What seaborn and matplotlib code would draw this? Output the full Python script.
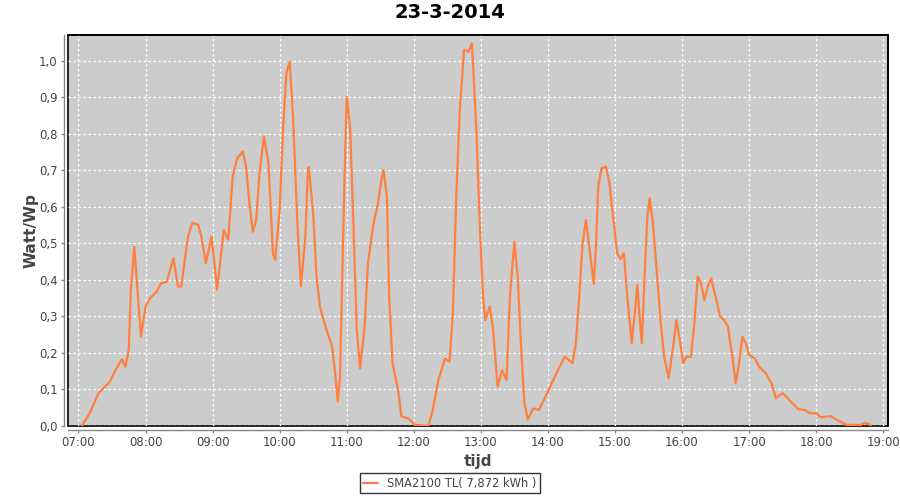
import pandas as pd
import seaborn as sns
import matplotlib
matplotlib.use('Agg')
import matplotlib.pyplot as plt
from matplotlib.ticker import FuncFormatter, MultipleLocator

# Values
times = ["07:03", "07:10", "07:18", "07:28", "07:34", "07:39", "07:42", "07:45", "07:47", "07:50",
         "07:53", "07:56", "08:00", "08:04", "08:10", "08:14", "08:19", "08:25", "08:29", "08:32",
         "08:38", "08:42", "08:47", "08:50", "08:54", "08:59", "09:01", "09:04", "09:08", "09:10",
         "09:14", "09:18", "09:22", "09:27", "09:30", "09:33", "09:36", "09:39", "09:42", "09:46",
         "09:50", "09:54", "09:56", "10:00", "10:03", "10:06", "10:09", "10:12", "10:16", "10:19",
         "10:23", "10:25", "10:26", "10:30", "10:33", "10:36", "10:42", "10:47", "10:50", "10:52",
         "10:54", "10:56", "10:58", "11:00", "11:03", "11:06", "11:09", "11:12", "11:16", "11:19",
         "11:24", "11:28", "11:31", "11:33", "11:36", "11:38", "11:41", "11:46", "11:49", "11:55",
         "12:01", "12:13", "12:17", "12:22", "12:28", "12:32", "12:35", "12:38", "12:41", "12:45",
         "12:49", "12:52", "12:56", "12:59", "13:02", "13:04", "13:08", "13:11", "13:15", "13:19",
         "13:23", "13:26", "13:30", "13:33", "13:36", "13:39", "13:42", "13:47", "13:52", "14:00",
         "14:07", "14:15", "14:22", "14:25", "14:28", "14:31", "14:34", "14:37", "14:41", "14:43",
         "14:45", "14:48", "14:52", "14:55", "14:59", "15:02", "15:05", "15:08", "15:11", "15:15",
         "15:18", "15:20", "15:22", "15:24", "15:27", "15:29", "15:31", "15:34", "15:38", "15:41",
         "15:44", "15:48", "15:52", "15:55", "15:58", "16:01", "16:04", "16:08", "16:11", "16:14",
         "16:17", "16:20", "16:23", "16:26", "16:30", "16:34", "16:38", "16:41", "16:45", "16:48",
         "16:51", "16:54", "16:57", "17:00", "17:05", "17:09", "17:15", "17:20", "17:24", "17:30",
         "17:36", "17:44", "17:50", "17:54", "18:00", "18:04", "18:13", "18:19", "18:27", "18:40",
         "18:44", "18:49"]

watt_per_wp = [0.0, 0.035, 0.09, 0.121, 0.158, 0.183, 0.162, 0.208, 0.38, 0.491,
               0.363, 0.245, 0.327, 0.35, 0.368, 0.391, 0.395, 0.459, 0.382, 0.382,
               0.519, 0.557, 0.551, 0.519, 0.446, 0.519, 0.464, 0.373, 0.482, 0.537,
               0.51, 0.683, 0.733, 0.752, 0.71, 0.61, 0.532, 0.564, 0.692, 0.793,
               0.72, 0.473, 0.455, 0.592, 0.811, 0.966, 0.998, 0.847, 0.546, 0.382,
               0.519, 0.683, 0.71, 0.583, 0.409, 0.327, 0.263, 0.217, 0.135, 0.067,
               0.135, 0.409, 0.674, 0.902, 0.82, 0.555, 0.263, 0.158, 0.272, 0.446,
               0.555, 0.61, 0.674, 0.701, 0.628, 0.354, 0.172, 0.099, 0.026, 0.021,
               0.003, 0.0, 0.044, 0.126, 0.185, 0.176, 0.309, 0.628, 0.857, 1.03,
               1.025, 1.048, 0.811, 0.555, 0.354, 0.29, 0.327, 0.263, 0.108, 0.153,
               0.126, 0.354, 0.505, 0.409, 0.217, 0.062, 0.018, 0.048, 0.044, 0.094,
               0.14, 0.19, 0.172, 0.227, 0.354, 0.5, 0.564, 0.491, 0.39, 0.491,
               0.656, 0.706, 0.71, 0.665, 0.555, 0.473, 0.457, 0.473, 0.354, 0.227,
               0.318, 0.386, 0.3, 0.227, 0.446, 0.573, 0.624, 0.555, 0.4, 0.281,
               0.19, 0.131, 0.217, 0.29, 0.236, 0.172, 0.19, 0.19, 0.281, 0.409,
               0.391, 0.345, 0.382, 0.405, 0.354, 0.3, 0.289, 0.272, 0.19, 0.117,
               0.172, 0.245, 0.227, 0.195, 0.185, 0.162, 0.144, 0.117, 0.076, 0.09,
               0.071, 0.046, 0.044, 0.035, 0.035, 0.024, 0.027, 0.016, 0.003, 0.003,
               0.009, 0.002]

series_label = "SMA2100 TL( 7,872 kWh )"
title = "23-3-2014"
hour_ticks = list(range(7, 20))

df = pd.DataFrame({'tijd': times, 'value': watt_per_wp})
df['hours'] = df['tijd'].apply(lambda s: int(s[:2]) + int(s[3:]) / 60.0)

sns.set_style('white')
plt.rcParams['font.family'] = ['DejaVu Sans']
text_col = '#444444'

fig = plt.figure(figsize=(9, 5), dpi=100)
ax = fig.add_axes([0.0756, 0.148, 0.911, 0.782])
ax.set_facecolor('#cccccc')

sns.lineplot(x='hours', y='value', data=df, ax=ax, color='#ff7f3f', linewidth=1.6,
             sort=False, estimator=None, label=series_label, legend=False)

ax.set_xlim(6.845, 19.07)
ax.set_ylim(0, 1.071)
ax.set_xticks(hour_ticks)
ax.xaxis.set_major_formatter(FuncFormatter(lambda v, p: f"{int(round(v)):02d}:00"))
ax.yaxis.set_major_locator(MultipleLocator(0.1))
ax.yaxis.set_major_formatter(FuncFormatter(lambda v, p: f"{v:.1f}".replace('.', ',')))

ax.grid(True, color='white', linestyle=(0, (2, 2)), linewidth=0.9)
ax.set_axisbelow(True)

# JFreeChart style: black plot frame, grey axis lines offset outward
ax.patch.set_edgecolor('black')
ax.patch.set_linewidth(1.2)
for side in ['top', 'right']:
    ax.spines[side].set_color('black')
    ax.spines[side].set_linewidth(1.2)
for side in ['left', 'bottom']:
    ax.spines[side].set_position(('outward', 3))
    ax.spines[side].set_color('#888888')
    ax.spines[side].set_linewidth(1)
ax.tick_params(axis='both', colors='#888888', labelcolor=text_col, labelsize=8.5,
               length=2.5, width=1, pad=2, direction='out')
ax.tick_params(left=True, bottom=True)

ax.set_xlabel('tijd', fontsize=11, fontweight='bold', color=text_col, labelpad=3)
ax.set_ylabel('Watt/Wp', fontsize=11, fontweight='bold', color=text_col, labelpad=0)
fig.suptitle(title, fontsize=14, fontweight='bold', color='black', y=0.995)

leg = fig.legend(handles=ax.get_lines(), labels=[series_label], loc='lower center',
                 bbox_to_anchor=(0.5, 0.002), frameon=True, fancybox=False,
                 edgecolor='black', fontsize=8.3, handlelength=1.3, borderpad=0.3)
for t in leg.get_texts():
    t.set_color(text_col)
leg.get_frame().set_linewidth(1)

fig.savefig('out.png', dpi=100)
